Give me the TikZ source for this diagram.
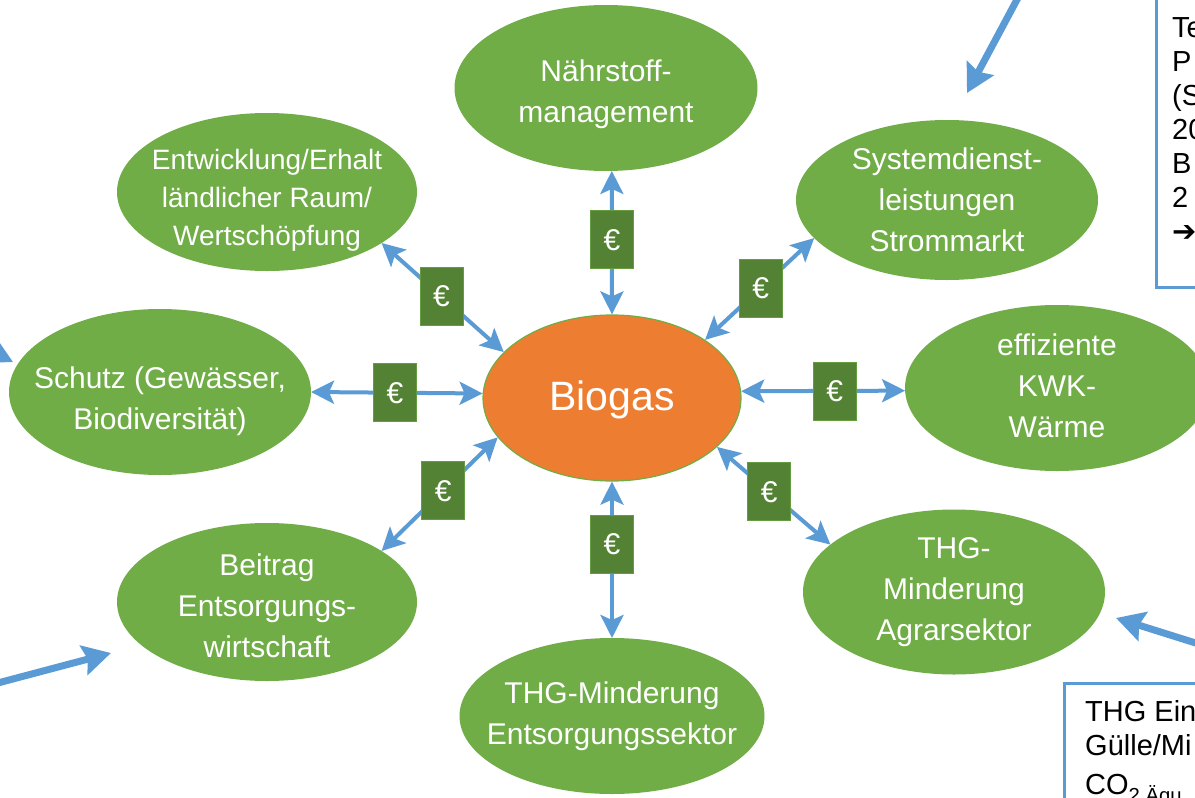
\documentclass[tikz,border=0pt]{standalone}
\usepackage{fontspec}
\setmainfont{Liberation Sans}
\newfontfamily\dejavu{DejaVu Sans}
\usetikzlibrary{shapes.geometric,arrows.meta}
\definecolor{lgreen}{HTML}{70AD47}
\definecolor{borange}{HTML}{ED7D31}
\definecolor{dgreen}{HTML}{548235}
\definecolor{lblue}{HTML}{5B9BD5}
\begin{document}
\begin{tikzpicture}[x=1pt,y=-1pt,
 bubble/.style={ellipse, fill=lgreen, draw=none, inner sep=0pt, outer sep=0pt},
 btext/.style={text=white, align=center, inner sep=0pt, font=\fontsize{30}{41}\selectfont},
 eur/.style={rectangle, fill=dgreen, draw=lgreen!60!dgreen, line width=0.8pt, minimum width=43pt, minimum height=58pt, inner sep=0pt, text=white, font=\fontsize{30}{30}\selectfont},
 link/.style={draw=lblue, line width=4pt, {Stealth[length=23pt,width=23pt,inset=5pt]}-{Stealth[length=23pt,width=23pt,inset=5pt]}},
 ext/.style={draw=lblue, line width=7pt, -{Stealth[length=28pt,width=30pt,inset=4pt]}},
 note/.style={draw=lblue, line width=3pt, fill=white},
 ntext/.style={text=black, align=left, anchor=north west, inner sep=0pt, font=\fontsize{29}{34}\selectfont}
]
\useasboundingbox (0,0) rectangle (1195,798);
\clip (0,0) rectangle (1195,798);
\fill[white] (0,0) rectangle (1195,798);

% note boxes
\node[note, minimum width=70pt, minimum height=320pt, anchor=south west] (notetr) at (1155,289) {};
\node[ntext] (notetrtxt) at (1172,17) {Te\\P\\(S\\20\\B\\2\\{\dejavu ➔}};
\node[note, minimum width=160pt, minimum height=140pt, anchor=north west] (notebr) at (1063,682) {};
\node[ntext] (notebrtxt) at (1085,700) {THG Ein\\Gülle/Mi\\[5pt]CO\textsubscript{2 Äqu}};

% ellipses
\node[bubble, minimum width=303pt, minimum height=166pt] (naehr) at (606,88) {};
\node[btext] (tnaehr) at (606,94) {Nährstoff-\\management};
\node[bubble, minimum width=302pt, minimum height=160pt] (sysd) at (947,200) {};
\node[btext] (tsysd) at (sysd) {Systemdienst-\\leistungen\\Strommarkt};
\node[bubble, minimum width=304pt, minimum height=166pt] (kwk) at (1057,388) {};
\node[btext] (tkwk) at (1057,386) {effiziente\\KWK-\\Wärme};
\node[bubble, minimum width=302pt, minimum height=165pt] (agrar) at (954,592) {};
\node[btext] (tagrar) at (agrar) {THG-\\Minderung\\Agrarsektor};
\node[bubble, minimum width=305pt, minimum height=156pt] (entsorg) at (612,716) {};
\node[btext] (tentsorg) at (612,716) {THG-Minderung\\Entsorgungssektor};
\node[bubble, minimum width=300pt, minimum height=158pt] (beitrag) at (267,602) {};
\node[btext] (tbeitrag) at (267,606) {Beitrag\\Entsorgungs-\\wirtschaft};
\node[bubble, minimum width=302pt, minimum height=166pt] (schutz) at (160,392) {};
\node[btext] (tschutz) at (160,401) {Schutz (Gewässer,\\Biodiversität)};
\node[bubble, minimum width=300pt, minimum height=158pt] (entw) at (267,192) {};
\node[btext, font=\fontsize{28}{38}\selectfont] (tentw) at (267,200) {Entwicklung/Erhalt\\ländlicher Raum/\\Wertschöpfung};

% center
\node[ellipse, fill=borange, draw=lgreen, line width=1.2pt, inner sep=0pt, minimum width=258pt, minimum height=166pt] (bio) at (612,398) {};
\node[text=white, inner sep=0pt, font=\fontsize{41}{41}\selectfont] (tbio) at (612,400) {Biogas};

% links with euro boxes
\draw[link] (bio.90) -- node[eur, pos=0.52] (e1) {€} (naehr.-86);
\draw[link] (bio.32) -- node[eur, pos=0.51] (e2) {€} (sysd.196);
\draw[link] (bio.3) -- node[eur, pos=0.57] (e3) {€} (kwk.181);
\draw[link] (bio.-25) -- node[eur, pos=0.46] (e4) {€} (agrar.159);
\draw[link] (bio.-90) -- node[eur, pos=0.40] (e5) {€} (entsorg.90);
\draw[link] (bio.199) -- node[eur, pos=0.47] (e6) {€} (beitrag.24);
\draw[link] (bio.178) -- node[eur, pos=0.51] (e7) {€} (schutz.0);
\draw[link] (bio.157) -- node[eur, pos=0.51] (e8) {€} (entw.-24);

% external arrows
\coordinate (a1s) at (1020,-6);
\coordinate (a1e) at (967,93);
\coordinate (a2s) at (-45,333);
\coordinate (a2e) at (13,362);
\coordinate (a3s) at (-6,684);
\coordinate (a3e) at (111,653);
\coordinate (a4s) at (1202,645);
\coordinate (a4e) at (1116,618);
\draw[ext] (a1s) -- (a1e);
\draw[ext] (a2s) -- (a2e);
\draw[ext] (a3s) -- (a3e);
\draw[ext] (a4s) -- (a4e);
\end{tikzpicture}
\end{document}
